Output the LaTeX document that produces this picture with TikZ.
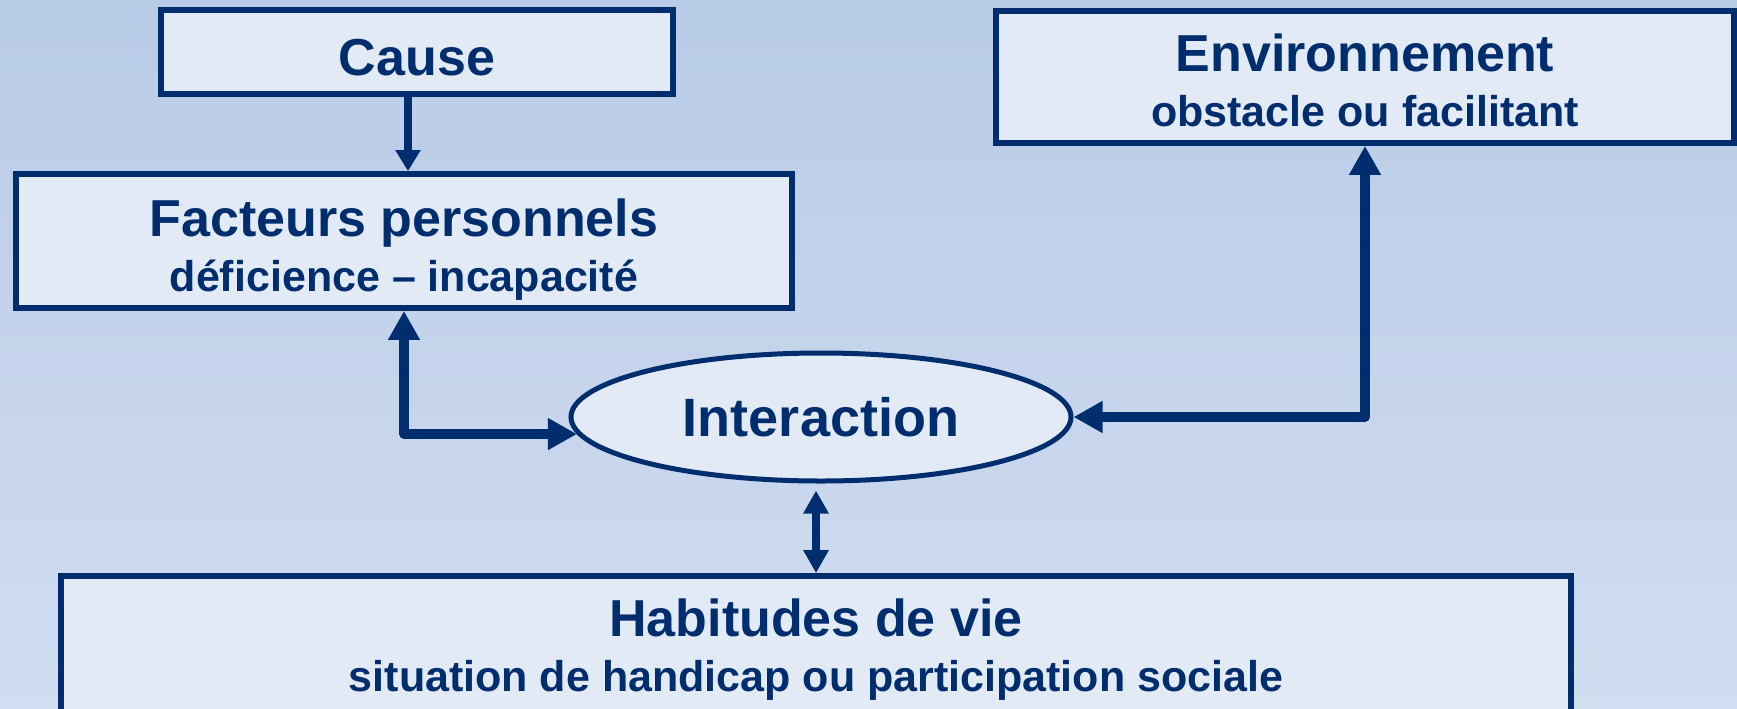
\documentclass[tikz,border=0pt]{standalone}
\usepackage{fontspec}
\setmainfont{Liberation Sans}
\usetikzlibrary{arrows.meta,shapes.geometric}
\definecolor{navy}{HTML}{002D6E}
\definecolor{boxfill}{HTML}{E2EAF6}
\definecolor{bgtop}{HTML}{B8CBE6}
\definecolor{bgbottom}{HTML}{D1DDF1}
\tikzstyle{box} = [draw=navy, fill=boxfill, line width=2.9pt, align=center, inner sep=0pt, text=navy]
\tikzstyle{line} = [draw=navy, {Triangle[length=14.5pt, width=15pt]}-{Triangle[length=14.5pt, width=15pt]}, line width=4.65pt, line join=round]
\tikzstyle{thinline} = [draw=navy, line width=4pt]
\newcommand{\titlefont}{\fontsize{26}{27.5}\selectfont\bfseries}
\newcommand{\subfont}{\fontsize{21.5}{27.5}\selectfont\bfseries}

\begin{document}
\begin{tikzpicture}[x=0.5pt, y=-0.5pt]
        \useasboundingbox (0,0) rectangle (1737,708);
        \fill[top color=bgtop, bottom color=bgbottom] (0,0) rectangle (1737,708);
        
        \node[box, minimum width=256pt, minimum height=42pt, text height=24pt, font=\titlefont] (cause) at (417,52) {Cause};
        
        \node[box, minimum width=388pt, minimum height=67pt, text height=55pt, font=\titlefont] (facteurs) at (404,241) {Facteurs personnels\\ {\subfont déficience – incapacité}};
        
        \node[box, minimum width=369pt, minimum height=66pt, text height=49.5pt, font=\titlefont] (environnement) at (1365,77) {Environnement\\ {\subfont obstacle ou facilitant}};
        
        \node[box, ellipse, line width=2.5pt, minimum width=250pt, minimum height=64pt, font=\fontsize{27}{30}\selectfont\bfseries] (interaction) at (821,417) {Interaction};
        
        \node[box, minimum width=755pt, minimum height=70pt, text height=49.5pt, font=\titlefont] (habitudes) at (816,646) {Habitudes de vie\\ {\subfont situation de handicap ou participation sociale}};
        
        \coordinate (causex) at (408,0);
        \draw[thinline, -{Triangle[length=10.5pt, width=12pt]}] (cause.south -| causex) -- (facteurs.north -| causex);
        \draw[line] (facteurs.south) |- (interaction.184);
        \draw[line] (interaction.east) -| (environnement.south);
        \draw[thinline, line width=3.8pt, {Triangle[length=11.5pt, width=12pt]}-{Triangle[length=11.5pt, width=12pt]}] ([yshift=-3.5pt]interaction.south -| habitudes.north) -- (habitudes.north);
    \end{tikzpicture}
\end{document}
